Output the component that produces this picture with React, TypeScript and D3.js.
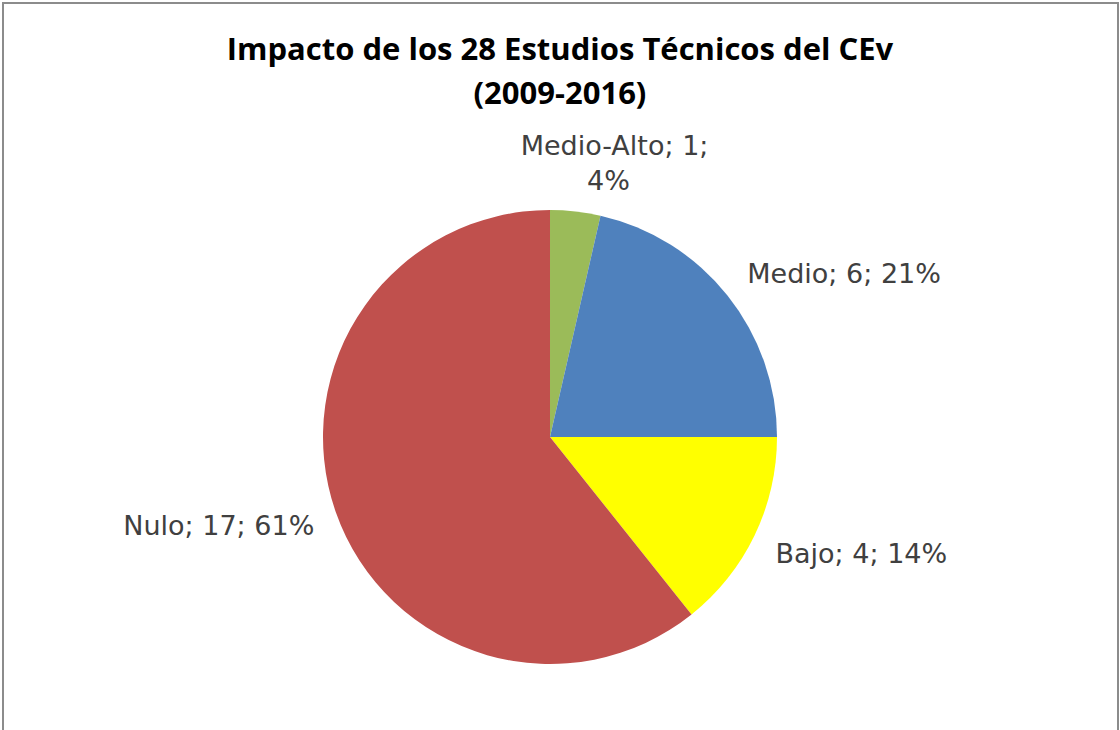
import React from "react";
import * as d3 from "d3";

const categories = ["Medio-Alto", "Medio", "Bajo", "Nulo"];
const values = [1, 6, 4, 17];
const percents = ["4%", "21%", "14%", "61%"];
const colors = ["#9BBB59", "#4F81BD", "#FFFF00", "#C0504D"];
const titleLines = ["Impacto de los 28 Estudios Técnicos del CEv", "(2009-2016)"];

const W = 1120, H = 730;
const cx = 550, cy = 437, R = 227;

// label layout nudges (dx, dy) relative to point on label ring
const labelNudge = [
  [38, -46],
  [12, -14],
  [12, 16],
  [-12, 12],
];

export default function App() {
  const pie = d3.pie<number>().sort(null).startAngle(0).endAngle(2 * Math.PI)(values);
  const arc = d3.arc<d3.PieArcDatum<number>>().innerRadius(0).outerRadius(R);
  const labelR = R + 10;
  return (
    <svg width={W} height={H} style={{ position: "absolute", left: 0, top: 0, background: "#fff" }}>
      <rect x={3} y={3} width={1115} height={740} fill="#fff" stroke="#8c8c8c" strokeWidth={2} />
      <g fontFamily="'Open Sans', 'Noto Sans', sans-serif" fontWeight={700} fontSize={31} fill="#000" textAnchor="middle">
        <text x={560} y={60}>{titleLines[0]}</text>
        <text x={560} y={104}>{titleLines[1]}</text>
      </g>
      <g transform={`translate(${cx},${cy})`}>
        {pie.map((d, i) => (
          <path key={i} d={arc(d) || ""} fill={colors[i]} />
        ))}
      </g>
      <g fontFamily="'DejaVu Sans', sans-serif" fontSize={27} fill="#404040">
        {pie.map((d, i) => {
          const a = (d.startAngle + d.endAngle) / 2;
          const x = cx + labelR * Math.sin(a) + labelNudge[i][0];
          const y = cy - labelR * Math.cos(a) + labelNudge[i][1];
          const label = `${categories[i]}; ${values[i]}; ${percents[i]}`;
          if (i === 0) {
            return (
              <text key={i} x={x} y={y} textAnchor="middle">
                <tspan x={x} dy={0}>{`${categories[i]}; ${values[i]};`}</tspan>
                <tspan x={x - 6} dy={35}>{percents[i]}</tspan>
              </text>
            );
          }
          const anchor = Math.sin(a) >= 0 ? "start" : "end";
          return (
            <text key={i} x={x} y={y} textAnchor={anchor} dominantBaseline="middle">
              {label}
            </text>
          );
        })}
      </g>
    </svg>
  );
}
